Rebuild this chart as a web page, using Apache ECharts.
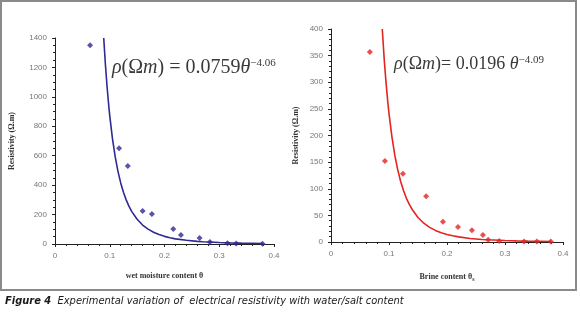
<!DOCTYPE html>
<html>
<head>
<meta charset="utf-8">
<script src="https://cdn.jsdelivr.net/npm/echarts@6/dist/echarts.min.js"></script>
<style>
  html, body { margin: 0; padding: 0; background: #fff; }
  #chart { width: 580px; height: 317px; }
</style>
</head>
<body>
<div id="chart"></div>
<script>
// === DATA ===
// wet moisture content (left panel)
const moistureTheta = [0.064, 0.117, 0.133, 0.160, 0.177, 0.216, 0.230, 0.264, 0.283, 0.315, 0.331, 0.379];
const moistureRho = [1350, 650, 530, 224, 204, 102, 61, 41, 14, 5, 3, 2];
// fitted curve
const moistureFitTheta = [0.089, 0.092, 0.095, 0.098, 0.10, 0.105, 0.11, 0.115, 0.12, 0.125, 0.13, 0.135, 0.14, 0.15, 0.16, 0.17, 0.18, 0.19, 0.20, 0.21, 0.22, 0.24, 0.26, 0.27, 0.30, 0.32, 0.34, 0.36, 0.38];
const moistureFitRho = [1400, 1223, 1074, 946, 871, 715, 592, 494, 415, 352, 300, 257, 222, 168, 129, 101, 80, 64, 52, 43, 35, 25, 18, 15.5, 10, 7.7, 6, 4.8, 3.9];

// brine content (right panel)
const brineTheta = [0.067, 0.093, 0.124, 0.164, 0.193, 0.219, 0.243, 0.262, 0.271, 0.290, 0.333, 0.355, 0.379];
const brineRho = [357, 152, 128, 86, 38, 28, 22, 13, 4, 2, 1, 1, 1];
// fitted curve
const brineFitTheta = [0.0884, 0.092, 0.095, 0.098, 0.10, 0.105, 0.11, 0.115, 0.12, 0.125, 0.13, 0.135, 0.14, 0.15, 0.16, 0.17, 0.18, 0.19, 0.20, 0.21, 0.22, 0.24, 0.26, 0.27, 0.30, 0.32, 0.34, 0.36, 0.38];
const brineFitRho = [400, 339, 298, 262, 241, 198, 163, 136, 114, 96.6, 82, 70.5, 61, 46, 35.3, 27.5, 21.8, 17.5, 14.2, 11.6, 9.6, 6.7, 4.8, 4.1, 2.7, 2.1, 1.6, 1.3, 1.0];

const xTicks = [0, 0.1, 0.2, 0.3, 0.4];
const moistureYTicks = [0, 200, 400, 600, 800, 1000, 1200, 1400];
const brineYTicks = [0, 50, 100, 150, 200, 250, 300, 350, 400];

const blue = '#2e2a94';
const red = '#e5231f';

const pairs = (xs, ys) => xs.map((x, i) => [x, ys[i]]);

// === CHART ===
const chart = echarts.init(document.getElementById('chart'));

const labelStyle = { color: '#777', fontSize: 8, fontFamily: 'Liberation Sans' };
const nameStyle = { color: '#333', fontSize: 8, fontWeight: 'bold', fontFamily: 'Liberation Serif' };

function xAxis(gridIndex, name, gap) {
    return {
        type: 'value', gridIndex: gridIndex,
        min: xTicks[0], max: xTicks[xTicks.length - 1], interval: xTicks[1] - xTicks[0],
        name: name, nameLocation: 'middle', nameGap: gap, nameTextStyle: nameStyle,
        axisLine: { lineStyle: { color: '#222', width: 1 } },
        axisTick: { length: 3, lineStyle: { color: '#222' } },
        minorTick: { show: true, splitNumber: 5, length: 2, lineStyle: { color: '#222' } },
        axisLabel: { ...labelStyle, margin: 8, formatter: v => String(v) },
        splitLine: { show: false }
    };
}

function yAxis(gridIndex, ticks, name, gap, minorSplit) {
    return {
        type: 'value', gridIndex: gridIndex,
        min: ticks[0], max: ticks[ticks.length - 1], interval: ticks[1] - ticks[0],
        name: name, nameLocation: 'middle', nameGap: gap, nameTextStyle: nameStyle,
        axisLine: { show: true, lineStyle: { color: '#222', width: 1 } },
        axisTick: { show: true, length: 3, lineStyle: { color: '#222' } },
        minorTick: { show: true, splitNumber: minorSplit, length: 2, lineStyle: { color: '#222' } },
        axisLabel: { ...labelStyle, margin: 8, formatter: v => String(v) },
        splitLine: { show: false }
    };
}

const eqFont = 'Liberation Serif';
const capFont = 'DejaVu Sans Condensed';

const option = {
    backgroundColor: '#fff',
    animation: false,
    grid: [
        { left: 55, right: 306, top: 38, bottom: 73 },
        { left: 331, right: 17, top: 29, bottom: 75 }
    ],
    xAxis: [
        xAxis(0, 'wet moisture content θ', 28),
        {
            ...xAxis(1, '{n|Brine content θ}{s|s}', 30),
            nameTextStyle: {
                ...nameStyle,
                rich: {
                    n: { ...nameStyle },
                    s: { ...nameStyle, fontSize: 6, verticalAlign: 'bottom', padding: [4, 0, 0, 0] }
                }
            }
        }
    ],
    yAxis: [
        yAxis(0, moistureYTicks, 'Resistivity (Ω.m)', 39, 4),
        yAxis(1, brineYTicks, 'Resistivity (Ω.m)', 31, 5)
    ],
    graphic: [
        // panel frame
        {
            type: 'rect', shape: { x: 1, y: 1, width: 575, height: 289 },
            style: { fill: 'none', stroke: '#8a8a8a', lineWidth: 2 }, silent: true
        },
        // left equation
        {
            type: 'text', left: 112, top: 58,
            style: {
                text: '{i|ρ}{n|(Ω}{i|m}{n|) = 0.0759}{i|θ}{p|−4.06}',
                rich: {
                    i: { fontFamily: eqFont, fontStyle: 'italic', fontSize: 20, fill: '#3a3a3a' },
                    n: { fontFamily: eqFont, fontSize: 20, fill: '#3a3a3a' },
                    p: { fontFamily: eqFont, fontSize: 11, fill: '#3a3a3a', verticalAlign: 'top' }
                }
            }
        },
        // right equation
        {
            type: 'text', left: 394, top: 55,
            style: {
                text: '{i|ρ}{n|(Ω}{i|m}{n|)= 0.0196 }{i|θ}{p|−4.09}',
                rich: {
                    i: { fontFamily: eqFont, fontStyle: 'italic', fontSize: 18, fill: '#3a3a3a' },
                    n: { fontFamily: eqFont, fontSize: 18, fill: '#3a3a3a' },
                    p: { fontFamily: eqFont, fontSize: 11, fill: '#3a3a3a', verticalAlign: 'top' }
                }
            }
        },
        // caption
        {
            type: 'text', left: 5, top: 296,
            style: {
                text: '{b|Figure 4}{t|  Experimental variation of  electrical resistivity with water/salt content}',
                rich: {
                    b: { fontFamily: capFont, fontStyle: 'italic', fontWeight: 'bold', fontSize: 11, fill: '#1a1a1a' },
                    t: { fontFamily: capFont, fontStyle: 'italic', fontSize: 11, fill: '#1a1a1a' }
                }
            }
        }
    ],
    series: [
        {
            type: 'line', xAxisIndex: 0, yAxisIndex: 0,
            data: pairs(moistureFitTheta, moistureFitRho),
            smooth: false, showSymbol: false,
            lineStyle: { color: blue, width: 1.6 }
        },
        {
            type: 'scatter', xAxisIndex: 0, yAxisIndex: 0,
            data: pairs(moistureTheta, moistureRho),
            symbol: 'diamond', symbolSize: 6,
            itemStyle: { color: blue }
        },
        {
            type: 'line', xAxisIndex: 1, yAxisIndex: 1,
            data: pairs(brineFitTheta, brineFitRho),
            smooth: false, showSymbol: false,
            lineStyle: { color: red, width: 1.6 }
        },
        {
            type: 'scatter', xAxisIndex: 1, yAxisIndex: 1,
            data: pairs(brineTheta, brineRho),
            symbol: 'diamond', symbolSize: 6,
            itemStyle: { color: red }
        }
    ]
};

chart.setOption(option);
</script>
</body>
</html>
